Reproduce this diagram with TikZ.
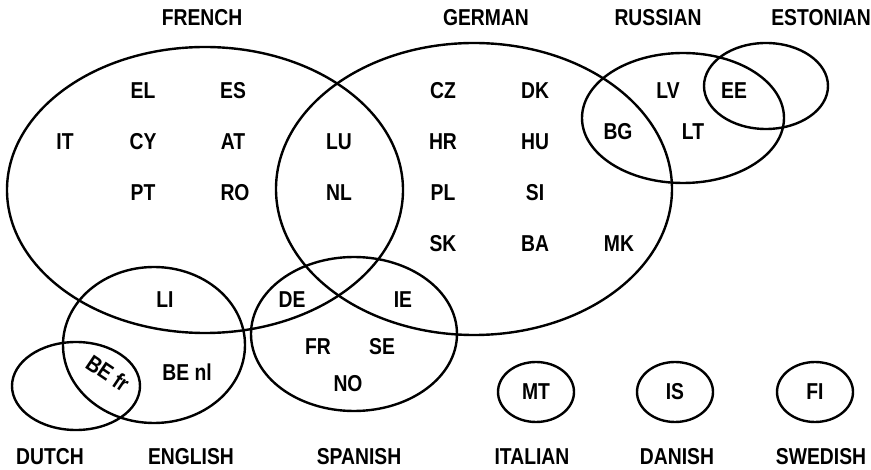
\documentclass[tikz,border=0pt]{standalone}
\usepackage{fontspec}
\setmainfont{Liberation Sans}[FakeStretch=0.84]
\usetikzlibrary{positioning}

\begin{document}
\begin{tikzpicture}[x=1pt,y=-1pt,
    lang/.style={font=\bfseries\fontsize{23}{27}\selectfont, inner sep=0pt},
    cntry/.style={font=\bfseries\fontsize{23}{27}\selectfont, inner sep=0pt},
    set/.style={line width=2.4pt}]

    \useasboundingbox (0,0) rectangle (871,470);

    % language sets
    \draw [set] (205,190) ellipse [x radius=198, y radius=143];
    \draw [set] (474,189) ellipse [x radius=198, y radius=146];
    \draw [set] (683,118) ellipse [x radius=101, y radius=65];
    \draw [set] (766,86) ellipse [x radius=62, y radius=43];
    \draw [set] (154,345) ellipse [x radius=91, y radius=78];
    \draw [set] (76,386) ellipse [x radius=64, y radius=44];
    \draw [set] (354,334) ellipse [x radius=103, y radius=77];
    \draw [set] (536,392) ellipse [x radius=38, y radius=30];
    \draw [set] (675,392) ellipse [x radius=38, y radius=30];
    \draw [set] (815,392) ellipse [x radius=38, y radius=30];

    % language names
    \node [lang] (fr) at (202,18) {FRENCH};
    \node [lang] (de) at (486,18) {GERMAN};
    \node [lang] (ru) at (658,18) {RUSSIAN};
    \node [lang, anchor=east] (et) at (871,18) {ESTONIAN};
    \node [lang] (nl) at (50,457) {DUTCH};
    \node [lang] (en) at (191,457) {ENGLISH};
    \node [lang] (es) at (359,457) {SPANISH};
    \node [lang] (it) at (532,457) {ITALIAN};
    \node [lang] (da) at (677,457) {DANISH};
    \node [lang] (sv) at (821,457) {SWEDISH};

    % countries
    \node [cntry] (EL) at (143,91) {EL};
    \node [cntry] (ES) at (233,91) {ES};
    \node [cntry] (IT) at (65,142) {IT};
    \node [cntry] (CY) at (143,142) {CY};
    \node [cntry] (AT) at (233,142) {AT};
    \node [cntry] (PT) at (143,193) {PT};
    \node [cntry] (RO) at (235,193) {RO};
    \node [cntry] (LU) at (339,142) {LU};
    \node [cntry] (NL) at (339,193) {NL};

    \node [cntry] (CZ) at (443,91) {CZ};
    \node [cntry] (DK) at (535,91) {DK};
    \node [cntry] (HR) at (443,142) {HR};
    \node [cntry] (HU) at (535,142) {HU};
    \node [cntry] (PL) at (443,193) {PL};
    \node [cntry] (SI) at (535,193) {SI};
    \node [cntry] (SK) at (443,244) {SK};
    \node [cntry] (BA) at (535,244) {BA};
    \node [cntry] (MK) at (619,244) {MK};

    \node [cntry] (LV) at (668,91) {LV};
    \node [cntry] (EE) at (734,91) {EE};
    \node [cntry] (BG) at (618,132) {BG};
    \node [cntry] (LT) at (693,132) {LT};

    \node [cntry] (LI) at (165,300) {LI};
    \node [cntry] (DE) at (292,300) {DE};
    \node [cntry] (IE) at (403,300) {IE};
    \node [cntry] (FR) at (318,347) {FR};
    \node [cntry] (SE) at (382,347) {SE};
    \node [cntry] (NO) at (348,384) {NO};
    \node [cntry] (BEnl) at (187,372) {BE nl};
    \node [cntry, rotate=-34] (BEfr) at (108,373) {BE fr};

    \node [cntry] (MT) at (536,392) {MT};
    \node [cntry] (IS) at (675,392) {IS};
    \node [cntry] (FI) at (815,392) {FI};

\end{tikzpicture}
\end{document}
